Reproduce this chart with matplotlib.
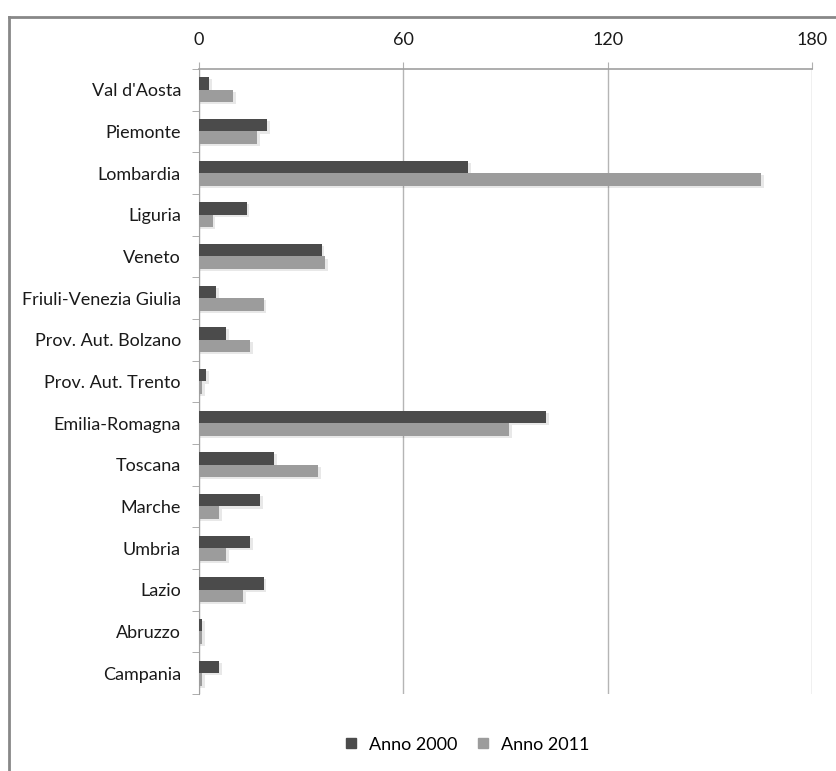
import matplotlib.pyplot as plt
import numpy as np
from matplotlib.lines import Line2D

# Regioni e valori per i due anni
regioni = ["Val d'Aosta", "Piemonte", "Lombardia", "Liguria", "Veneto",
           "Friuli-Venezia Giulia", "Prov. Aut. Bolzano", "Prov. Aut. Trento",
           "Emilia-Romagna", "Toscana", "Marche", "Umbria", "Lazio",
           "Abruzzo", "Campania"]
anno_2000 = [3, 20, 79, 14, 36, 5, 8, 2, 102, 22, 18, 15, 19, 1, 6]
anno_2011 = [10, 17, 165, 4, 37, 19, 15, 1, 91, 35, 6, 8, 13, 1, 1]
x_ticks = [0, 60, 120, 180]

col_2000 = "#4b4b4b"
col_2011 = "#9c9c9c"

plt.rcParams['font.family'] = ['Lato', 'DejaVu Sans']

fig = plt.figure(figsize=(8.37, 7.71), dpi=100)
ax = fig.add_axes([0.2378, 0.1, 0.7324, 0.8105])

y = np.arange(len(regioni))
h = 0.3

# ombra leggera sotto le barre
for vals, off in ((anno_2000, -h / 2), (anno_2011, h / 2)):
    ax.barh(y + off + 0.05, np.array(vals) + 0.5, height=h, left=0.3,
            color="#000000", alpha=0.09, linewidth=0, zorder=2)

ax.barh(y - h / 2, anno_2000, height=h, color=col_2000, zorder=3, label="Anno 2000")
ax.barh(y + h / 2, anno_2011, height=h, color=col_2011, zorder=3, label="Anno 2011")

ax.set_xlim(0, 180)
ax.set_ylim(len(regioni) - 0.5, -0.5)
ax.xaxis.tick_top()
ax.set_xticks(x_ticks)
ax.tick_params(axis='x', length=5, color="#b0b0b0", labelsize=13, pad=10, labelcolor="#1a1a1a")
ax.grid(axis='x', color="#b5b5b5", linewidth=1, zorder=1)

ax.set_yticks(y)
ax.set_yticklabels(regioni)
ax.tick_params(axis='y', length=0, labelsize=13, pad=13, labelcolor="#1a1a1a")
ax.set_yticks(np.arange(len(regioni) + 1) - 0.5, minor=True)
ax.tick_params(axis='y', which='minor', length=5, color="#a0a0a0")

for s in ("right", "bottom"):
    ax.spines[s].set_visible(False)
ax.spines["left"].set_color("#a0a0a0")
ax.spines["top"].set_color("#a0a0a0")
ax.spines["top"].set_linewidth(1.2)

handles = [Line2D([], [], marker='s', linestyle='none', color=col_2000, markersize=7),
           Line2D([], [], marker='s', linestyle='none', color=col_2011, markersize=7)]
fig.legend(handles, ["Anno 2000", "Anno 2011"], loc='center', bbox_to_anchor=(0.551, 0.034),
           ncol=2, frameon=False, fontsize=13, handletextpad=0.0, columnspacing=0.4)

# cornice del grafico
fig.add_artist(Line2D([0.0105, 0.0105], [0, 0.978], color="#888888", linewidth=2))
fig.add_artist(Line2D([0.0105, 1.0], [0.978, 0.978], color="#888888", linewidth=2))

fig.savefig("out.png", dpi=100)
